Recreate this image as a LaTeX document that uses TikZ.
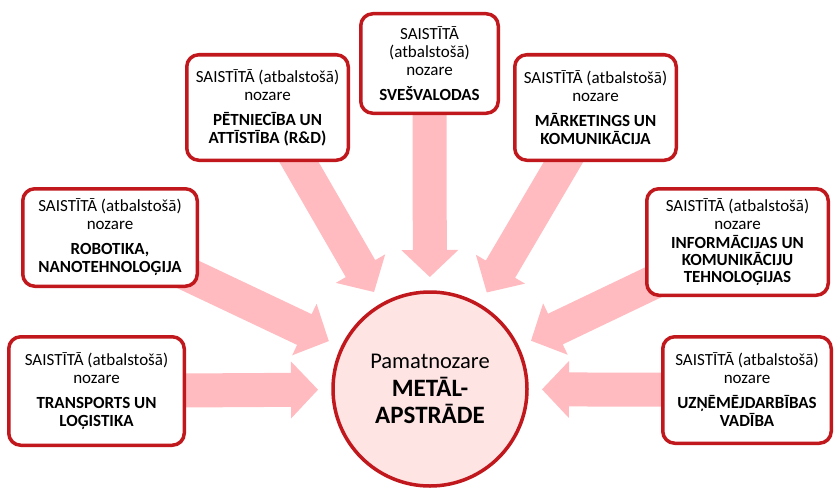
\documentclass[tikz,border=0pt]{standalone}
\usepackage{fontspec}
\setmainfont{Carlito}
\usetikzlibrary{calc}
\definecolor{boxred}{RGB}{192,24,28}
\definecolor{arrowpink}{RGB}{255,187,191}
\definecolor{circfill}{RGB}{255,228,228}
\pgfdeclarelayer{background}
\pgfsetlayers{background,main}
\newcommand\blockarrow[2]{%
  \coordinate (T) at ($(#2.center)!112pt!(#1.center)$);
  \coordinate (H) at ($(T)!27pt!(#1.center)$);
  \begin{pgfonlayer}{background}
  \fill[arrowpink] (T) -- ($(H)!28.5pt!90:(T)$) -- ($(H)!17pt!90:(T)$)
    -- ($(#1.center)!17pt!90:(T)$) -- ($(#1.center)!17pt!-90:(T)$)
    -- ($(H)!17pt!-90:(T)$) -- ($(H)!28.5pt!-90:(T)$) -- cycle;
  \end{pgfonlayer}}
\tikzset{
  sidebox/.style={draw=boxred, line width=3.5pt, rounded corners=12pt, fill=white,
    align=center, inner sep=0pt, font=\fontsize{17}{18}\selectfont},
  mainbox/.style={circle, draw=boxred, line width=3.5pt, fill=circfill,
    align=center, inner sep=0pt, minimum size=194pt}
}
\begin{document}
\begin{tikzpicture}[x=1pt,y=-1pt]
\useasboundingbox (0,0) rectangle (834,487);
\node[mainbox, font=\fontsize{22.5}{27.5}\selectfont] (c) at (430,389)
  {Pamatnozare\\ {\fontsize{25}{27.5}\selectfont\textbf{METĀL-}}\\ {\fontsize{25}{27.5}\selectfont\textbf{APSTRĀDE}}};
\node[sidebox, minimum width=175.5pt, minimum height=108.5pt] (b1) at (96.5,391)
  {SAISTĪTĀ (atbalstošā)\\ nozare\\[7pt] \textbf{TRANSPORTS UN}\\ \textbf{LOĢISTIKA}};
\node[sidebox, minimum width=174.5pt, minimum height=97.5pt] (b2) at (110,237.5)
  {SAISTĪTĀ (atbalstošā)\\ nozare\\[7pt] \textbf{ROBOTIKA,}\\ \textbf{NANOTEHNOLOĢIJA}};
\node[sidebox, minimum width=161.5pt, minimum height=105.5pt] (b3) at (267.5,107.5)
  {SAISTĪTĀ (atbalstošā)\\ nozare\\[7pt] \textbf{PĒTNIECĪBA UN}\\ \textbf{ATTĪSTĪBA (R\&D)}};
\node[sidebox, minimum width=137.5pt, minimum height=99.5pt] (b4) at (429.5,63.5)
  {SAISTĪTĀ\\ (atbalstošā)\\ nozare\\[7pt] \textbf{SVEŠVALODAS}};
\node[sidebox, minimum width=161.5pt, minimum height=105.5pt] (b5) at (595.5,107.5)
  {SAISTĪTĀ (atbalstošā)\\ nozare\\[7pt] \textbf{MĀRKETINGS UN}\\ \textbf{KOMUNIKĀCIJA}};
\node[sidebox, minimum width=181.5pt, minimum height=106.5pt] (b6) at (737.5,242)
  {SAISTĪTĀ (atbalstošā)\\ nozare\\[1pt] \textbf{INFORMĀCIJAS UN}\\[-1pt] \textbf{KOMUNIKĀCIJU}\\[-1pt] \textbf{TEHNOLOĢIJAS}};
\node[sidebox, minimum width=168.5pt, minimum height=106.5pt] (b7) at (747,390)
  {SAISTĪTĀ (atbalstošā)\\ nozare\\[7pt] \textbf{UZŅĒMĒJDARBĪBAS}\\ \textbf{VADĪBA}};
\blockarrow{b1}{c}
\blockarrow{b2}{c}
\blockarrow{b3}{c}
\blockarrow{b4}{c}
\blockarrow{b5}{c}
\blockarrow{b6}{c}
\blockarrow{b7}{c}
\end{tikzpicture}
\end{document}
